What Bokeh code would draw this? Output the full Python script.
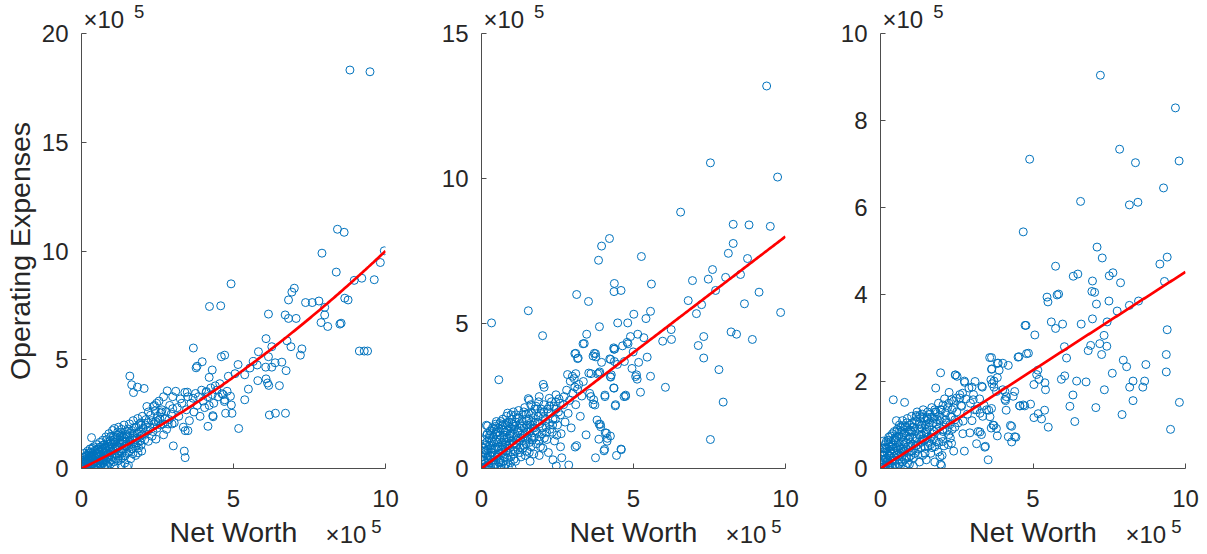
from bokeh.plotting import figure
from bokeh.models import Range1d, FixedTicker, LinearAxis, Title
from bokeh.layouts import row
from bokeh.embed import file_html
from bokeh.resources import INLINE
import numpy as np

# Values are in units of 1e5 (net worth, operating expenses)

# Panel A: (net worth, operating expenses)
points_a = [
    (8.83, 18.32), (9.49, 18.24), (8.42, 11.00), (8.64, 10.86), (9.96, 10.01), (7.91, 9.90), (9.83, 9.47),
    (8.38, 9.03), (4.92, 8.49), (8.97, 8.65), (9.22, 8.75), (9.63, 8.68), (7.00, 8.29), (6.92, 8.11),
    (6.81, 7.75), (8.66, 7.83), (8.77, 7.75), (7.37, 7.63), (7.59, 7.63), (7.81, 7.70), (4.21, 7.45),
    (4.58, 7.48), (8.00, 7.41), (8.00, 7.06), (6.15, 7.10), (6.70, 7.06), (6.81, 6.90), (7.06, 6.90),
    (7.88, 6.71), (8.10, 6.53), (8.50, 6.64), (8.54, 6.68), (6.07, 5.97), (6.26, 5.60), (6.76, 5.87),
    (6.89, 5.60), (7.25, 5.50), (7.20, 5.21), (9.14, 5.40), (9.30, 5.40), (9.41, 5.40), (3.68, 5.54),
    (5.82, 5.37), (4.60, 5.14), (4.71, 5.21), (6.15, 5.14), (6.37, 4.86), (6.59, 4.89), (6.73, 4.50),
    (6.06, 4.66), (6.26, 4.66), (5.65, 4.92), (5.78, 4.76), (5.15, 4.78), (5.54, 4.62), (5.37, 4.31),
    (5.05, 4.36), (4.83, 4.24), (6.07, 4.12), (6.12, 3.93), (6.16, 3.82), (6.51, 3.81), (5.80, 4.04),
    (5.49, 3.65), (5.37, 3.16), (4.93, 2.92), (4.71, 3.16), (4.66, 3.40), (4.74, 2.54), (4.95, 2.54),
    (6.18, 2.46), (6.38, 2.54), (6.71, 2.54), (5.17, 1.84), (4.62, 3.44), (4.79, 3.55), (4.90, 3.32),
    (4.70, 3.08), (3.97, 4.91), (3.80, 4.70), (3.77, 4.63), (4.30, 4.53), (4.20, 4.19), (1.59, 4.25),
    (1.65, 3.85), (1.84, 3.74), (2.06, 3.68), (1.71, 3.49), (4.32, 2.43), (4.16, 1.94), (3.50, 1.74),
    (3.41, 1.74), (3.02, 1.04), (3.38, 0.80), (3.41, 0.50), (4.33, 2.38), (2.82, 3.57), (3.48, 3.51),
    (3.67, 3.23), (4.11, 3.54),
    (2.00, 2.40), (2.10, 2.00), (2.20, 2.60), (2.30, 2.20), (2.35, 1.70), (2.40, 2.90), (2.50, 2.40),
    (2.55, 3.10), (2.60, 2.00), (2.65, 2.70), (2.70, 3.30), (2.75, 2.30), (2.80, 1.80), (2.90, 2.90),
    (2.95, 2.50), (3.00, 3.30), (3.05, 2.10), (3.10, 3.55), (3.15, 2.80), (3.20, 2.40), (3.25, 3.20),
    (3.30, 3.00), (3.35, 1.90), (3.40, 3.50), (3.45, 2.70), (3.50, 3.30), (3.55, 2.20), (3.60, 3.00),
    (3.70, 2.60), (3.75, 3.45), (3.80, 2.90), (3.85, 3.30), (3.90, 2.40), (3.95, 3.60), (4.00, 3.10),
    (4.05, 2.80), (4.10, 3.50), (4.15, 3.30), (4.20, 2.90), (4.25, 3.70), (4.30, 3.40), (4.35, 3.00),
    (4.40, 3.80), (4.45, 3.60), (4.50, 3.30), (4.55, 3.90), (2.05, 1.60), (2.15, 2.85), (2.25, 1.90),
    (2.45, 2.15), (2.60, 2.55), (2.70, 1.55), (2.85, 2.05), (3.00, 2.75), (2.45, 1.35), (2.20, 1.25),
    (2.36, 2.85), (2.47, 3.00), (2.63, 2.60), (1.32, 1.80), (1.97, 2.00), (2.19, 2.10), (2.52, 2.20),
    (0.02, 0.02), (0.04, 0.10), (0.05, 0.30), (0.06, 0.05), (0.08, 0.50), (0.10, 0.20), (0.10, 0.70),
    (0.12, 0.00), (0.14, 0.35), (0.15, 0.60), (0.18, 0.10), (0.20, 0.80), (0.20, 0.45), (0.22, 0.25),
    (0.25, 0.05), (0.25, 0.60), (0.28, 0.90), (0.30, 0.35), (0.30, 0.15), (0.33, 1.42), (0.35, 0.70),
    (0.35, 0.50), (0.38, 0.05), (0.40, 1.00), (0.40, 0.30), (0.42, 0.60), (0.45, 0.15), (0.45, 0.85),
    (0.48, 0.45), (0.50, 1.10), (0.50, 0.70), (0.52, 0.25), (0.55, 0.05), (0.55, 0.90), (0.58, 0.55),
    (0.60, 1.20), (0.60, 0.35), (0.62, 0.75), (0.65, 0.10), (0.65, 1.00), (0.68, 0.50), (0.70, 1.30),
    (0.70, 0.25), (0.72, 0.80), (0.75, 1.10), (0.75, 0.05), (0.78, 0.60), (0.80, 1.45), (0.80, 0.35),
    (0.82, 0.95), (0.85, 1.20), (0.85, 0.15), (0.88, 0.70), (0.90, 1.60), (0.90, 0.45), (0.92, 1.00),
    (0.95, 1.30), (0.95, 0.20), (0.98, 0.80), (1.00, 1.10), (1.00, 0.55), (1.02, 1.75), (1.05, 0.30),
    (1.05, 1.45), (1.08, 1.84), (1.10, 0.90), (1.10, 0.10), (1.12, 1.20), (1.15, 0.65), (1.18, 1.55),
    (1.20, 1.00), (1.20, 0.35), (1.22, 1.90), (1.25, 1.30), (1.28, 0.80), (1.30, 1.65), (1.30, 0.15),
    (1.32, 1.10), (1.35, 0.50), (1.38, 1.45), (1.40, 2.00), (1.40, 0.90), (1.42, 0.25), (1.45, 1.25),
    (1.48, 1.70), (1.50, 0.70), (1.50, 0.05), (1.54, 0.14), (1.52, 1.50), (1.55, 1.05), (1.58, 2.05),
    (1.60, 1.30), (1.62, 0.45), (1.65, 1.75), (1.68, 0.90), (1.70, 2.20), (1.72, 1.50), (1.75, 1.15),
    (1.78, 0.60), (1.80, 1.90), (1.82, 1.40), (1.85, 2.30), (1.88, 0.95), (1.90, 1.70), (1.92, 1.25),
    (1.95, 2.10), (1.98, 0.80), (2.00, 1.55),
    (0.07, 0.22), (0.11, 0.41), (0.13, 0.12), (0.16, 0.27), (0.19, 0.58), (0.21, 0.06), (0.23, 0.37),
    (0.27, 0.19), (0.29, 0.52), (0.31, 0.74), (0.34, 0.22), (0.36, 0.93), (0.39, 0.41), (0.41, 0.11),
    (0.43, 0.78), (0.47, 0.33), (0.49, 0.58), (0.51, 0.88), (0.53, 0.12), (0.57, 0.42), (0.59, 0.98),
    (0.61, 0.61), (0.63, 0.21), (0.66, 0.83), (0.69, 0.37), (0.71, 1.08), (0.73, 0.55), (0.77, 0.93),
    (0.79, 0.18), (0.81, 0.72), (0.84, 1.33), (0.87, 0.52), (0.89, 1.12), (0.91, 0.28), (0.94, 0.88),
    (0.97, 1.48), (0.99, 0.40), (1.03, 0.98), (1.06, 0.68), (1.09, 1.32), (1.13, 0.48), (1.16, 1.02),
    (1.19, 1.68), (1.23, 0.72), (1.26, 1.18), (1.29, 0.42), (1.33, 1.52), (1.36, 0.88), (1.39, 1.22),
    (1.43, 0.58), (1.46, 1.45), (1.49, 1.05), (1.53, 1.82), (1.56, 0.78), (1.59, 1.62), (1.63, 1.12),
    (1.66, 1.38), (1.69, 0.68), (1.73, 1.88), (1.76, 1.32), (1.79, 1.05), (1.83, 1.62), (1.86, 0.72),
    (1.89, 2.02), (1.93, 1.48), (1.96, 1.08), (2.03, 1.85), (2.08, 1.32), (2.12, 2.25), (2.18, 1.72),
    (2.27, 2.45), (2.32, 1.48), (2.38, 2.05), (2.42, 2.65), (2.48, 1.85), (2.58, 2.28), (2.68, 2.05),
    (2.78, 2.62), (2.88, 2.25), (2.98, 2.05),
    (0.12, 0.52), (0.17, 0.32), (0.24, 0.72), (0.27, 0.42), (0.32, 0.58), (0.37, 0.18), (0.44, 0.52),
    (0.54, 0.68), (0.64, 0.42), (0.67, 0.88), (0.74, 0.32), (0.76, 0.98), (0.83, 0.55), (0.86, 1.02),
    (0.93, 0.62), (0.96, 1.15), (1.04, 0.82), (1.07, 1.22), (1.14, 0.95), (1.17, 1.42), (1.24, 0.58),
    (1.27, 1.45), (1.34, 0.72), (1.37, 1.28), (1.44, 1.02), (1.47, 1.58), (1.57, 1.22), (1.64, 0.92),
    (1.74, 1.62), (1.84, 1.18),
]

# Panel B
points_b = [
    (9.38, 13.19), (7.53, 10.54), (9.74, 10.05), (6.55, 8.84), (8.28, 8.42), (8.80, 8.40), (9.50, 8.35),
    (4.21, 7.93), (3.95, 7.67), (3.85, 7.18), (5.26, 7.31), (8.28, 7.76), (8.12, 7.42), (8.75, 7.24),
    (7.60, 6.86), (7.46, 6.53), (8.03, 6.59), (8.52, 6.69), (6.94, 6.48), (4.37, 6.38), (4.36, 6.10),
    (4.59, 6.14), (5.59, 6.36), (7.70, 6.14), (9.13, 6.08), (3.13, 6.00), (3.52, 5.76), (6.80, 5.79),
    (7.24, 5.65), (7.07, 5.34), (8.65, 5.68), (9.84, 5.38), (1.54, 5.44), (0.33, 5.02), (4.48, 5.02),
    (4.81, 5.02), (5.01, 5.32), (5.41, 5.17), (5.56, 5.42), (3.88, 4.89), (2.01, 4.58), (3.46, 4.63),
    (4.90, 4.55), (5.14, 4.63), (5.34, 4.51), (5.96, 4.39), (6.24, 4.79), (6.25, 4.45), (7.31, 4.55),
    (7.13, 4.24), (7.31, 3.81), (8.21, 4.71), (8.39, 4.63), (8.91, 4.45), (7.81, 3.41), (7.95, 2.29),
    (7.53, 1.00), (6.05, 2.80), (5.23, 2.63), (5.56, 3.18), (5.12, 3.08), (5.10, 3.23), (4.95, 3.45),
    (5.17, 3.66), (5.45, 3.84), (4.70, 3.69), (4.37, 3.69), (4.22, 3.78), (4.35, 4.16), (4.82, 4.30),
    (4.99, 4.02), (4.74, 2.53), (4.41, 2.20), (4.35, 2.78), (4.06, 2.53), (4.27, 3.23), (3.75, 3.96),
    (3.67, 3.88), (3.95, 3.66), (3.07, 3.96), (3.18, 3.81), (3.34, 4.30), (3.53, 3.29), (3.82, 3.26),
    (3.89, 3.33), (3.56, 2.59), (3.67, 2.22), (3.44, 1.16), (3.13, 0.79), (3.80, 1.67), (3.91, 1.52),
    (4.11, 1.22), (3.86, 1.01), (4.13, 0.94), (4.05, 0.66), (3.75, 0.37), (4.44, 0.45), (4.59, 0.67),
    (2.46, 0.09), (2.87, 0.12), (2.64, 0.37), (2.03, 2.90), (2.06, 2.80), (1.54, 2.41), (0.57, 3.06),
    (3.38, 4.31), (3.10, 3.97), (3.16, 3.79), (3.71, 3.97), (3.76, 3.85), (4.36, 4.11), (4.25, 3.76),
    (4.47, 3.59), (4.64, 4.23), (2.83, 3.24), (2.99, 3.18), (3.10, 3.27), (2.92, 3.01), (3.07, 2.81),
    (3.16, 2.74), (3.60, 3.27), (3.87, 3.29), (4.25, 3.15), (3.60, 2.48), (3.69, 2.37), (3.73, 2.19),
    (4.06, 2.48), (4.36, 2.77), (4.40, 2.16), (4.69, 2.48), (3.87, 1.53), (3.92, 1.44), (4.07, 1.23),
    (4.14, 1.04), (4.03, 0.61), (4.60, 0.65), (3.08, 0.74), (1.57, 2.36), (1.90, 2.48), (2.23, 2.42),
    (2.45, 2.54), (2.72, 2.48), (0.20, 1.47), (0.47, 1.53), (0.86, 1.91), (0.97, 1.85), (0.17, 1.15),
    (5.07, 3.17), (4.24, 3.17), (4.74, 2.49), (4.24, 1.12), (4.38, 4.12), (4.79, 4.35),
    (0.02, 0.02), (0.04, 0.15), (0.05, 0.40), (0.06, 0.05), (0.08, 0.70), (0.10, 0.25), (0.10, 1.00),
    (0.12, 0.00), (0.14, 0.50), (0.16, 1.49), (0.15, 0.80), (0.18, 0.10), (0.20, 0.35), (0.22, 0.65),
    (0.25, 0.05), (0.25, 1.05), (0.28, 0.45), (0.30, 0.80), (0.30, 0.20), (0.33, 1.20), (0.35, 0.55),
    (0.38, 0.05), (0.40, 0.90), (0.40, 0.30), (0.42, 1.35), (0.45, 0.70), (0.46, 1.45), (0.46, 1.19),
    (0.48, 0.15), (0.50, 1.00), (0.52, 0.45), (0.55, 0.05), (0.55, 1.25), (0.58, 0.75), (0.60, 0.30),
    (0.60, 1.55), (0.62, 1.00), (0.65, 0.10), (0.65, 1.35), (0.68, 0.55), (0.70, 1.70), (0.70, 0.80),
    (0.72, 0.25), (0.75, 1.15), (0.75, 0.02), (0.78, 1.50), (0.80, 0.60), (0.80, 0.90), (0.82, 1.80),
    (0.85, 1.30), (0.85, 0.35), (0.88, 0.05), (0.90, 1.05), (0.90, 1.60), (0.92, 0.70), (0.95, 1.40),
    (0.95, 0.20), (0.98, 0.95), (1.00, 0.03), (1.00, 1.70), (1.02, 1.20), (1.05, 0.50), (1.05, 1.95),
    (1.08, 0.85), (1.10, 1.45), (1.12, 0.25), (1.15, 1.10), (1.18, 1.75), (1.20, 0.65), (1.20, 1.30),
    (1.22, 2.00), (1.25, 0.95), (1.28, 1.55), (1.30, 0.40), (1.32, 1.15), (1.35, 1.85), (1.38, 0.80),
    (1.40, 1.40), (1.42, 2.10), (1.45, 1.00), (1.48, 1.65), (1.50, 0.60), (1.50, 1.25), (1.55, 1.90),
    (1.58, 0.90), (1.60, 1.50), (1.62, 2.20), (1.65, 1.10), (1.70, 1.75), (1.72, 0.50), (1.75, 2.05),
    (1.78, 1.30), (1.80, 0.85), (1.85, 1.60), (1.88, 2.30), (1.90, 1.10), (1.95, 1.90), (2.00, 1.40),
    (2.02, 0.70), (2.05, 2.20), (2.10, 1.65), (2.15, 1.00), (2.20, 1.95), (2.25, 1.35), (2.30, 2.30),
    (2.35, 1.70), (2.40, 0.95), (2.45, 2.05), (2.50, 1.50), (2.55, 2.40), (2.60, 1.85), (2.62, 1.20),
    (2.70, 2.20), (2.75, 1.60), (2.80, 2.70), (2.85, 1.90), (2.90, 2.35), (2.95, 1.40), (3.00, 2.60),
    (3.05, 3.10), (3.10, 2.20), (3.20, 2.90), (3.25, 1.80), (3.30, 2.50), (3.35, 3.00), (1.60, 0.25),
    (1.90, 0.45), (2.20, 0.55), (2.60, 0.75), (2.35, 0.30),
    (0.07, 0.30), (0.09, 0.55), (0.11, 0.85), (0.13, 0.18), (0.16, 0.62), (0.19, 1.20), (0.21, 0.42),
    (0.23, 0.08), (0.26, 0.78), (0.29, 1.30), (0.31, 0.55), (0.34, 0.95), (0.37, 0.28), (0.39, 1.10),
    (0.41, 0.65), (0.44, 0.12), (0.47, 0.92), (0.49, 1.62), (0.51, 0.38), (0.53, 0.75), (0.56, 1.40),
    (0.59, 0.52), (0.61, 1.15), (0.63, 0.20), (0.66, 0.88), (0.69, 1.50), (0.71, 0.45), (0.74, 1.00),
    (0.77, 0.72), (0.79, 1.25), (0.81, 0.15), (0.84, 1.05), (0.87, 0.55), (0.89, 1.45), (0.91, 0.85),
    (0.94, 1.20), (0.97, 0.40), (0.99, 1.55), (1.03, 0.95), (1.06, 1.35), (1.09, 0.62), (1.13, 1.60),
    (1.16, 0.82), (1.19, 1.25), (1.23, 1.72), (1.26, 0.55), (1.29, 1.05), (1.33, 1.45), (1.36, 0.70),
    (1.39, 1.95), (1.43, 1.20), (1.46, 0.85), (1.49, 1.50), (1.53, 1.05), (1.56, 1.70), (1.59, 1.30),
    (1.63, 0.75), (1.66, 1.90), (1.69, 1.40), (1.73, 1.05), (1.76, 1.60), (1.79, 2.15), (1.83, 1.25),
    (1.86, 1.80), (1.89, 0.95), (1.93, 1.55), (1.96, 2.05), (1.99, 1.20), (2.03, 1.75), (2.07, 1.05),
    (2.12, 1.45), (2.17, 2.05), (2.23, 1.55), (2.28, 1.90), (2.33, 1.25), (2.38, 2.15), (2.43, 1.70),
    (2.48, 1.15), (2.53, 1.95), (2.58, 2.25),
    (0.12, 0.62), (0.18, 0.92), (0.24, 0.28), (0.27, 1.15), (0.32, 0.68), (0.36, 1.40), (0.43, 0.45),
    (0.48, 1.25), (0.54, 0.90), (0.57, 0.22), (0.64, 1.62), (0.67, 0.68), (0.73, 1.32), (0.76, 0.38),
    (0.83, 1.58), (0.86, 0.78), (0.93, 1.12), (0.96, 0.58), (1.04, 1.52), (1.07, 0.32), (1.14, 1.85),
    (1.17, 0.98), (1.24, 1.40), (1.27, 0.72), (1.34, 1.65), (1.37, 1.10), (1.44, 0.45), (1.47, 1.88),
    (1.54, 1.38), (1.57, 0.55), (1.64, 1.60), (1.67, 0.98), (1.74, 1.40), (1.84, 2.05), (1.94, 0.75),
    (2.04, 1.95), (2.14, 1.25), (2.24, 2.15), (2.34, 1.50), (2.44, 2.30),
]

# Panel C
points_c = [
    (7.21, 9.04), (9.67, 8.29), (7.84, 7.34), (8.36, 7.03), (4.89, 7.11), (9.79, 7.07), (9.28, 6.45),
    (6.56, 6.14), (8.16, 6.06), (8.44, 6.12), (4.68, 5.44), (7.10, 5.09), (7.27, 4.84), (9.40, 4.86),
    (9.16, 4.70), (5.74, 4.65), (6.32, 4.42), (6.47, 4.47), (7.50, 4.43), (7.62, 4.50), (6.95, 4.31),
    (7.87, 4.27), (9.31, 4.30), (5.46, 3.94), (5.49, 3.83), (5.79, 3.99), (5.84, 4.01), (6.93, 4.07),
    (7.02, 4.05), (7.08, 3.78), (7.49, 3.85), (8.16, 3.75), (8.46, 3.85), (7.76, 3.62), (5.60, 3.37),
    (5.74, 3.22), (5.97, 3.32), (4.77, 3.29), (5.06, 3.07), (6.58, 3.32), (6.95, 3.44), (7.43, 3.37),
    (9.40, 3.19), (7.33, 3.06), (6.89, 2.83), (7.19, 2.87), (7.25, 2.62), (7.42, 2.81), (6.81, 2.71),
    (6.03, 2.80), (6.10, 2.54), (4.85, 2.65), (4.54, 2.57), (3.58, 2.55), (3.83, 2.42), (4.01, 2.42),
    (4.19, 2.37), (3.65, 2.29), (3.89, 2.26), (3.83, 2.09), (3.72, 2.01), (3.66, 1.95), (3.32, 1.89),
    (3.80, 1.77), (4.01, 1.81), (4.13, 1.65), (4.40, 1.77), (4.10, 1.56), (5.16, 2.26), (5.12, 2.16),
    (5.20, 2.05), (5.39, 1.97), (5.03, 1.93), (5.41, 1.81), (5.93, 2.05), (6.04, 2.13), (6.31, 1.69),
    (6.43, 2.01), (6.21, 1.43), (6.37, 1.08), (7.06, 1.40), (6.74, 1.99), (7.60, 2.19), (7.96, 2.49),
    (8.07, 2.34), (8.28, 2.01), (8.17, 1.87), (8.60, 1.87), (8.66, 2.01), (8.70, 2.39), (7.34, 1.81),
    (7.92, 1.24), (8.28, 1.56), (9.37, 2.62), (9.37, 2.22), (9.80, 1.52), (9.51, 0.90), (4.57, 1.44),
    (4.73, 1.44), (4.92, 1.48), (5.03, 1.17), (5.17, 1.26), (5.28, 1.14), (5.50, 0.95), (5.38, 1.34),
    (4.12, 1.34), (4.26, 0.99), (4.19, 0.73), (4.40, 0.73), (4.30, 0.61), (3.55, 1.34), (3.64, 1.38),
    (3.63, 0.93), (3.83, 0.75), (3.72, 0.99), (3.44, 0.51), (3.53, 0.20), (1.81, 1.85), (2.46, 2.15),
    (1.97, 2.20), (2.75, 2.01), (2.75, 0.40), (2.40, 0.40), (4.74, 3.29), (4.79, 2.64), (4.51, 2.56),
    (3.64, 2.55), (3.86, 2.42), (3.64, 2.28), (3.62, 2.04), (3.72, 1.87), (4.08, 1.77), (4.35, 1.66),
    (4.08, 1.59), (4.57, 1.44), (4.68, 1.46), (3.69, 1.00), (3.80, 0.92), (4.30, 0.97), (4.44, 0.72),
    (3.15, 0.57), (3.42, 0.49), (3.26, 0.84), (3.31, 0.78), (2.51, 2.12), (2.76, 1.98), (2.69, 1.73),
    (3.00, 1.87), (3.34, 1.87), (1.51, 0.85), (2.05, 0.90), (2.27, 1.01), (2.71, 1.09), (2.93, 0.82),
    (2.33, 0.58), (1.18, 1.19), (1.54, 1.15), (1.78, 1.35), (2.05, 1.46), (2.33, 1.58), (2.60, 1.62),
    (3.04, 1.58), (2.66, 1.43), (3.09, 1.35), (3.26, 1.27), (3.48, 1.35), (3.59, 1.19),
    (0.02, 0.02), (0.04, 0.10), (0.05, 0.30), (0.06, 0.03), (0.08, 0.45), (0.09, 0.63), (0.10, 0.18),
    (0.12, 0.00), (0.14, 0.35), (0.15, 0.55), (0.18, 0.08), (0.20, 0.25), (0.22, 0.45), (0.25, 0.05),
    (0.25, 0.65), (0.28, 0.30), (0.30, 0.12), (0.30, 0.50), (0.33, 0.75), (0.35, 0.35), (0.38, 0.03),
    (0.40, 0.55), (0.40, 0.20), (0.42, 1.58), (0.45, 0.85), (0.45, 0.40), (0.48, 0.10), (0.50, 0.65),
    (0.52, 1.10), (0.52, 0.30), (0.55, 0.02), (0.55, 0.90), (0.58, 0.50), (0.60, 0.20), (0.60, 0.75),
    (0.62, 1.00), (0.65, 0.05), (0.65, 0.55), (0.68, 0.35), (0.70, 0.85), (0.72, 1.10), (0.72, 0.15),
    (0.75, 0.65), (0.78, 0.40), (0.79, 1.52), (0.80, 0.95), (0.82, 0.05), (0.85, 0.75), (0.85, 0.25),
    (0.88, 1.15), (0.90, 0.50), (0.92, 0.85), (0.95, 0.10), (0.95, 1.00), (0.98, 0.60), (1.00, 0.30),
    (1.00, 0.85), (1.02, 1.20), (1.05, 0.55), (1.08, 0.05), (1.10, 0.95), (1.12, 0.35), (1.15, 1.10),
    (1.18, 0.70), (1.20, 1.30), (1.22, 0.45), (1.25, 0.90), (1.28, 0.15), (1.30, 1.15), (1.32, 0.60),
    (1.35, 1.00), (1.38, 0.30), (1.40, 1.35), (1.42, 0.80), (1.45, 0.50), (1.48, 1.10), (1.50, 0.20),
    (1.52, 0.90), (1.55, 1.30), (1.58, 0.60), (1.60, 1.05), (1.65, 0.35), (1.68, 1.40), (1.70, 0.80),
    (1.75, 1.15), (1.78, 0.50), (1.82, 1.30), (1.85, 0.90), (1.90, 1.50), (1.92, 0.60), (1.95, 1.10),
    (1.97, 0.10), (2.00, 1.35), (2.02, 0.30), (2.05, 0.85), (2.10, 1.60), (2.15, 1.05), (2.20, 1.40),
    (2.22, 0.55), (2.25, 1.75), (2.30, 1.20), (2.35, 0.90), (2.40, 1.55), (2.45, 2.15), (2.50, 1.30),
    (2.55, 1.05), (2.60, 1.70), (2.65, 1.45), (2.70, 0.80), (2.80, 1.60), (2.85, 1.25), (2.90, 1.85),
    (2.95, 1.50), (3.00, 1.10), (3.05, 1.70), (3.10, 2.00), (3.15, 1.35), (3.20, 0.85), (3.25, 1.60),
    (3.35, 1.20), (3.40, 1.45), (1.95, 0.27), (2.00, 0.07), (1.78, 0.15),
    (0.07, 0.20), (0.09, 0.38), (0.11, 0.08), (0.13, 0.48), (0.16, 0.22), (0.19, 0.62), (0.21, 0.15),
    (0.23, 0.35), (0.26, 0.55), (0.29, 0.08), (0.31, 0.40), (0.34, 0.62), (0.37, 0.18), (0.39, 0.80),
    (0.41, 0.45), (0.44, 0.28), (0.47, 0.70), (0.49, 0.05), (0.51, 0.48), (0.53, 0.85), (0.56, 0.35),
    (0.59, 0.62), (0.61, 0.10), (0.63, 0.88), (0.66, 0.45), (0.69, 0.72), (0.71, 0.28), (0.74, 0.98),
    (0.77, 0.55), (0.79, 0.20), (0.81, 0.82), (0.84, 0.45), (0.87, 0.95), (0.89, 0.12), (0.91, 0.68),
    (0.94, 0.38), (0.97, 0.88), (0.99, 0.52), (1.03, 1.05), (1.06, 0.72), (1.09, 0.25), (1.13, 0.85),
    (1.16, 0.52), (1.19, 1.08), (1.23, 0.32), (1.26, 0.78), (1.29, 1.22), (1.33, 0.48), (1.36, 0.92),
    (1.39, 0.68), (1.43, 1.15), (1.46, 0.35), (1.49, 0.82), (1.53, 1.18), (1.56, 0.52), (1.59, 0.95),
    (1.63, 1.25), (1.66, 0.72), (1.69, 0.48), (1.73, 1.05), (1.76, 0.85), (1.79, 1.30), (1.83, 0.62),
    (1.86, 1.12), (1.89, 0.38), (1.93, 0.95), (1.96, 1.35), (1.99, 0.72), (2.03, 1.15), (2.08, 0.52),
    (2.13, 1.28), (2.18, 0.88), (2.24, 1.50), (2.29, 0.70), (2.34, 1.18), (2.39, 1.40), (2.44, 0.95),
    (2.49, 1.62),
    (0.12, 0.30), (0.17, 0.45), (0.24, 0.12), (0.27, 0.72), (0.32, 0.28), (0.36, 0.50), (0.43, 0.65),
    (0.46, 0.18), (0.54, 0.72), (0.57, 0.42), (0.64, 0.30), (0.67, 0.95), (0.73, 0.45), (0.76, 0.78),
    (0.83, 0.60), (0.86, 1.05), (0.93, 0.25), (0.96, 0.72), (1.04, 0.40), (1.07, 0.95), (1.14, 0.62),
    (1.17, 1.22), (1.24, 0.55), (1.27, 1.02), (1.34, 0.78), (1.37, 1.25), (1.44, 0.65), (1.47, 1.00),
    (1.54, 0.72), (1.57, 1.12), (1.64, 0.55), (1.67, 1.18), (1.74, 0.68), (1.84, 1.02), (1.94, 1.22),
    (2.04, 0.62), (2.14, 1.12), (2.24, 0.78), (2.34, 1.35), (2.44, 1.12),
]

# Fitted trend (polynomial coefficients, highest power first)
fit_a = [0.032, 0.68, 0.0]
fit_b = [0.80, 0.0]
fit_c = [0.452, 0.0]

y_max = [20, 15, 10]
y_ticks = [[0, 5, 10, 15, 20], [0, 5, 10, 15], [0, 2, 4, 6, 8, 10]]
x_ticks = [0, 5, 10]
x_label = "Net Worth"
y_label = "Operating Expenses"
exp_base = "×10"
exp_power = "5"

BLUE = "#0072BD"
RED = "#FF0000"
INK = "#262626"
AXIS = "#4d4d4d"
FONT = "Liberation Sans"
TICK_SIZE = "24px"
LABEL_SIZE = "28.5px"
SUP_SIZE = "18.5px"


def text_axis(p, place, tick, text, size, standoff):
    """A bare axis (no line, no ticks) on the 0-100 text range carrying one string."""
    ax = LinearAxis(x_range_name="txt", ticker=FixedTicker(ticks=[tick]),
                    major_label_overrides={tick: text})
    ax.axis_line_color = None
    ax.major_tick_line_color = None
    ax.minor_tick_line_color = None
    ax.major_tick_in = 0
    ax.major_tick_out = 0
    ax.major_label_standoff = standoff
    ax.major_label_text_font = FONT
    ax.major_label_text_font_size = size
    ax.major_label_text_color = INK
    p.add_layout(ax, place)


def panel(points, ymax, yt, fit, ylabel, border_left, frame_w, border_right):
    p = figure(frame_width=frame_w, frame_height=435,
               x_range=Range1d(0, 10), y_range=Range1d(0, ymax),
               output_backend="svg", toolbar_location=None,
               min_border_left=border_left, min_border_right=border_right,
               min_border_top=33, min_border_bottom=86)
    p.extra_x_ranges = {"txt": Range1d(0, 100)}
    p.outline_line_color = None
    p.grid.visible = False
    p.background_fill_color = "white"
    p.border_fill_color = "white"

    xs = [a for a, b in points]
    ys = [b for a, b in points]
    p.scatter(xs, ys, marker="circle", size=8, fill_color=None,
              line_color=BLUE, line_width=1)

    fx = np.linspace(0.02, 10, 200)
    fy = np.polyval(fit, fx)
    p.line(fx, fy, line_color=RED, line_width=2.7)

    p.xaxis.ticker = FixedTicker(ticks=x_ticks)
    p.yaxis.ticker = FixedTicker(ticks=yt)
    for ax in (p.xaxis[0], p.yaxis[0]):
        ax.axis_line_color = AXIS
        ax.axis_line_width = 1
        ax.major_tick_line_color = AXIS
        ax.major_tick_in = 5
        ax.major_tick_out = 0
        ax.minor_tick_line_color = None
        ax.major_label_text_font = FONT
        ax.major_label_text_font_size = TICK_SIZE
        ax.major_label_text_color = INK
        ax.axis_label_text_font = FONT
        ax.axis_label_text_font_size = LABEL_SIZE
        ax.axis_label_text_font_style = "normal"
        ax.axis_label_text_color = INK
    p.xaxis.major_label_standoff = 21
    p.yaxis.major_label_standoff = 13
    if ylabel:
        p.yaxis.axis_label = ylabel
        p.yaxis.axis_label_standoff = 3

    # beneath the ticks: exponent, x label and superscript share one line
    text_axis(p, "below", 87, exp_base, TICK_SIZE, 11)
    text_axis(p, "below", 50, x_label, LABEL_SIZE, -35)
    text_axis(p, "below", 97, exp_power, SUP_SIZE, -31)

    # exponent above the top-left corner of the frame
    p.add_layout(Title(text=exp_base, align="left", offset=2, standoff=2,
                       text_font=FONT, text_font_size=TICK_SIZE,
                       text_font_style="normal", text_color=INK), "above")
    text_axis(p, "above", 19, exp_power, SUP_SIZE, -15)
    return p


p1 = panel(points_a, y_max[0], y_ticks[0], fit_a, y_label, 81, 304, 15)
p2 = panel(points_b, y_max[1], y_ticks[1], fit_b, None, 81, 304, 15)
p3 = panel(points_c, y_max[2], y_ticks[2], fit_c, None, 80, 305, 22)

layout = row(p1, p2, p3)
open("out.html", "w").write(file_html(layout, INLINE))
